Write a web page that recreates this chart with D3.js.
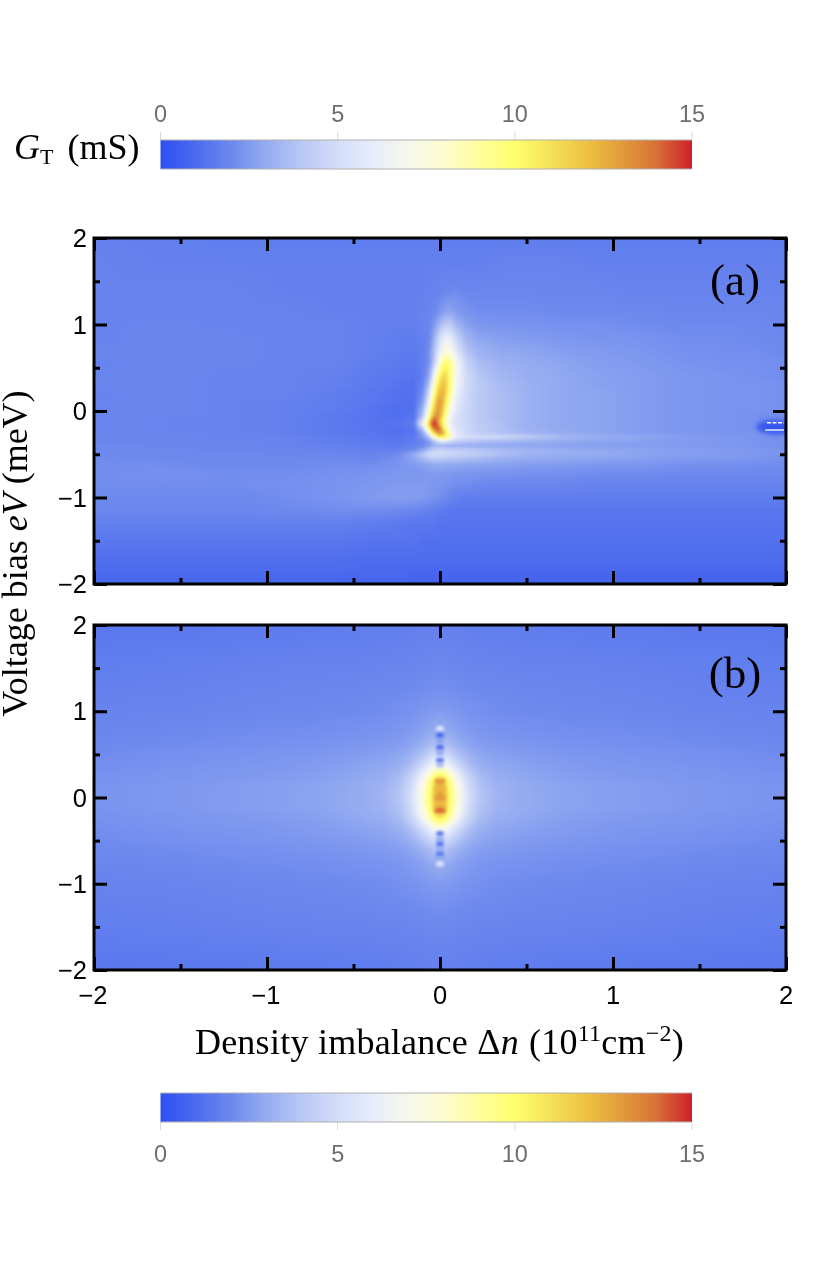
<!DOCTYPE html>
<html>
<head>
<meta charset="utf-8">
<title>Tunnel conductance maps</title>
<script src="https://cdn.jsdelivr.net/npm/d3@7"></script>
<style>
  html, body { margin: 0; padding: 0; background: #fff; }
  #chart { position: relative; width: 828px; height: 1263px; overflow: hidden; }
  #chart canvas, #chart svg { position: absolute; left: 0; top: 0; }
</style>
</head>
<body>
<div id="chart"></div>
<script>
// Colour map for the conductance, in mS
const colorValues = [0, 1, 2, 3, 4, 5, 6, 7, 8, 9, 10, 11, 12, 13, 14, 15];
const colorStops = ["#2d4ff0", "#4c6bee", "#6d89ee", "#96acf1", "#b9c8f5", "#d3ddf8", "#e8edfb", "#f7f8ea",
                    "#fcfcd0", "#fefe9c", "#ffff6e", "#f5e258", "#eec244", "#e29c3a", "#d97038", "#cc2028"];
const colorTicks = [0, 5, 10, 15];

// Measured map (a): density imbalance columns, voltage bias rows, conductance table
const measuredN = [-2, -1.6, -1.2, -0.9, -0.6, -0.4, -0.25, -0.15, -0.1, -0.07, -0.05, -0.03, -0.01, 0.01, 0.03,
                   0.05, 0.07, 0.1, 0.15, 0.22, 0.35, 0.5, 0.7, 0.9, 1.1, 1.4, 1.7, 1.85, 2];
const measuredV = [2, 1.7, 1.4, 1.15, 1, 0.85, 0.7, 0.55, 0.4, 0.3, 0.2, 0.1, 0.03, -0.05, -0.1, -0.15, -0.2, -0.25,
                   -0.3, -0.35, -0.4, -0.45, -0.5, -0.55, -0.62, -0.72, -0.85, -1, -1.15, -1.3, -1.5, -1.75, -2];
const measuredG = [
  [1.7,1.7,1.6,1.6,1.6,1.6,1.6,1.6,1.6,1.6,1.6,1.6,1.6,1.6,1.6,1.6,1.6,1.6,1.6,1.6,1.6,1.6,1.6,1.6,1.6,1.6,1.6,1.6,1.6],
  [1.8,1.7,1.7,1.7,1.7,1.7,1.7,1.7,1.7,1.7,1.7,1.7,1.7,1.7,1.7,1.7,1.7,1.7,1.7,1.7,1.8,1.8,1.8,1.7,1.7,1.7,1.7,1.7,1.7],
  [1.8,1.8,1.8,1.7,1.7,1.7,1.7,1.7,1.7,1.8,1.8,1.8,1.8,1.9,1.9,1.9,2.0,2.0,1.9,1.9,1.9,1.9,1.9,1.9,1.8,1.8,1.8,1.8,1.8],
  [1.8,1.8,1.8,1.8,1.7,1.7,1.7,1.7,1.8,1.8,1.9,2.0,2.2,2.5,2.7,2.8,2.7,2.5,2.3,2.1,2.1,2.1,2.0,2.0,2.0,1.9,1.9,1.9,1.9],
  [1.8,1.9,1.8,1.8,1.8,1.7,1.7,1.7,1.8,1.9,2.1,2.5,3.1,3.7,4.1,4.2,3.9,3.2,2.7,2.4,2.3,2.3,2.2,2.2,2.1,2.0,2.0,2.0,1.9],
  [1.8,1.9,1.9,1.8,1.8,1.7,1.6,1.6,1.7,1.9,2.4,3.3,4.4,5.4,5.9,6.0,5.5,4.4,3.3,2.8,2.6,2.5,2.4,2.3,2.3,2.1,2.1,2.0,2.0],
  [1.9,1.9,1.9,1.8,1.8,1.7,1.6,1.5,1.7,2.0,2.8,3.9,5.3,6.5,7.3,7.4,6.8,5.4,3.9,3.2,2.9,2.8,2.6,2.5,2.4,2.2,2.1,2.1,2.0],
  [1.8,1.9,1.9,1.8,1.8,1.6,1.5,1.4,1.7,2.1,3.0,4.6,6.8,9.0,10,9.9,8.6,6.6,4.6,3.6,3.2,3.0,2.8,2.6,2.5,2.3,2.2,2.2,2.1],
  [1.9,1.9,1.8,1.8,1.7,1.5,1.4,1.3,1.7,2.6,4.2,7.2,9.6,11,11.4,10.4,8.8,6.6,5.0,4.0,3.4,3.1,2.9,2.7,2.6,2.4,2.3,2.2,2.1],
  [1.9,1.9,1.8,1.8,1.7,1.5,1.3,1.2,1.9,3.3,5.6,8.6,10.8,12,11.8,10.4,8.6,6.4,5.0,4.1,3.5,3.2,2.9,2.7,2.6,2.4,2.3,2.3,2.2],
  [1.8,1.9,1.8,1.8,1.6,1.4,1.2,1.2,2.2,4.3,7.2,10,11.8,12.6,11.8,10,8.0,6.0,4.9,4.1,3.6,3.2,2.9,2.8,2.6,2.4,2.3,2.3,2.2],
  [1.9,1.9,1.8,1.7,1.6,1.4,1.2,1.2,2.6,5.4,8.6,11.2,12.9,12.8,11,9.0,7.2,5.7,4.8,4.1,3.6,3.2,2.9,2.8,2.6,2.4,2.3,2.3,2.2],
  [1.8,1.9,1.8,1.7,1.6,1.3,1.1,1.2,3.2,6.4,9.6,12,13,12.4,10.4,8.4,6.8,5.5,4.8,4.1,3.6,3.2,2.9,2.8,2.6,2.4,2.3,2.3,2.2],
  [1.9,1.9,1.8,1.7,1.5,1.3,1.1,1.3,3.8,7.6,11,13,13.4,11.8,9.6,7.6,6.2,5.3,4.7,4.1,3.6,3.2,2.9,2.8,2.6,2.4,2.3,2.2,2.1],
  [1.9,1.8,1.8,1.7,1.5,1.3,1.2,1.4,5.0,9.0,12.8,14.4,13,10.8,8.8,7.0,5.9,5.2,4.7,4.1,3.6,3.2,2.9,2.8,2.6,2.4,2.3,2.2,2.1],
  [1.8,1.9,1.8,1.7,1.5,1.3,1.3,1.6,6.2,10.5,14,15,13.4,11,8.8,7.0,5.9,5.2,4.8,4.2,3.7,3.2,2.9,2.8,2.6,2.4,2.3,2.2,2.1],
  [1.9,1.8,1.8,1.7,1.5,1.3,1.2,1.4,4.2,8.8,12.2,14.2,14.4,12.2,9.6,7.6,6.1,5.3,4.8,4.2,3.7,3.2,2.9,2.8,2.6,2.4,2.3,2.2,2.1],
  [1.9,1.9,1.8,1.7,1.5,1.4,1.2,1.3,2.8,5.8,9.6,12,13.6,13.2,11.2,9.0,6.8,5.6,4.8,4.3,3.8,3.3,3.0,2.8,2.6,2.4,2.3,2.3,2.2],
  [1.9,1.9,1.8,1.8,1.6,1.4,1.3,1.5,2.4,3.5,5.5,8.0,10,10.8,10.2,9.2,7.2,5.8,5.2,5.0,4.8,4.2,3.5,3.1,2.9,2.6,2.4,2.3,2.2],
  [1.9,1.9,1.9,1.8,1.6,1.5,1.4,1.6,1.9,2.4,3.0,4.0,5.0,5.6,5.6,5.0,4.6,4.2,4.0,3.8,3.5,3.2,3.0,2.8,2.7,2.5,2.4,2.3,2.2],
  [2.0,1.9,1.9,1.8,1.7,1.6,1.5,1.7,2.0,2.4,2.8,3.1,3.2,3.2,3.2,3.1,3.1,3.1,3.1,3.0,2.9,2.8,2.7,2.6,2.6,2.5,2.4,2.3,2.2],
  [2.0,2.0,1.9,1.9,1.8,1.7,1.7,2.1,2.8,3.5,4.0,4.3,4.6,4.6,4.5,4.5,4.4,4.3,4.1,3.9,3.6,3.3,3.1,2.9,2.8,2.6,2.5,2.4,2.3],
  [2.0,2.0,2.0,1.9,1.9,1.8,2.0,3.0,4.0,4.8,5.0,5.0,5.0,5.0,4.9,4.8,4.7,4.6,4.4,4.1,3.7,3.3,3.1,3.0,2.8,2.6,2.5,2.4,2.3],
  [2.1,2.0,2.0,2.0,2.0,1.9,2.2,2.8,3.4,3.9,4.1,4.1,4.1,4.0,4.0,3.9,3.9,3.8,3.7,3.5,3.2,3.0,2.9,2.8,2.7,2.5,2.4,2.3,2.2],
  [2.1,2.1,2.0,2.0,2.1,2.1,2.3,2.5,2.7,2.8,2.9,3.0,3.0,3.0,2.9,2.9,2.9,2.9,2.8,2.8,2.7,2.6,2.5,2.4,2.4,2.2,2.2,2.1,2.1],
  [2.1,2.2,2.1,2.1,2.2,2.3,2.4,2.4,2.4,2.5,2.5,2.5,2.5,2.5,2.5,2.5,2.4,2.4,2.4,2.3,2.3,2.2,2.2,2.1,2.1,2.0,2.0,2.0,2.0],
  [2.1,2.1,2.1,2.2,2.3,2.4,2.5,2.5,2.5,2.5,2.4,2.4,2.4,2.3,2.3,2.2,2.2,2.1,2.1,2.0,1.9,1.9,1.9,1.8,1.8,1.8,1.8,1.8,1.8],
  [2.0,2.0,2.0,2.1,2.3,2.5,2.6,2.6,2.5,2.4,2.3,2.3,2.2,2.1,2.0,1.9,1.8,1.7,1.6,1.6,1.6,1.6,1.6,1.6,1.6,1.6,1.6,1.6,1.6],
  [1.9,1.9,1.9,2.0,2.1,2.1,2.0,1.9,1.8,1.7,1.7,1.6,1.6,1.5,1.5,1.4,1.4,1.4,1.4,1.4,1.4,1.4,1.4,1.4,1.4,1.4,1.4,1.4,1.4],
  [1.7,1.7,1.7,1.7,1.7,1.6,1.5,1.4,1.4,1.4,1.4,1.4,1.3,1.3,1.3,1.3,1.3,1.3,1.3,1.3,1.3,1.3,1.3,1.3,1.3,1.3,1.3,1.3,1.3],
  [1.4,1.4,1.4,1.4,1.4,1.3,1.3,1.3,1.2,1.2,1.2,1.2,1.2,1.2,1.2,1.2,1.2,1.2,1.2,1.2,1.2,1.2,1.2,1.2,1.2,1.2,1.2,1.2,1.2],
  [1.1,1.1,1.1,1.1,1.1,1.0,1.0,1.0,1.0,1.0,1.0,1.0,1.0,1.0,1.0,1.0,1.0,1.0,1.0,1.0,1.0,1.0,1.0,1.0,1.0,1.0,1.0,1.0,1.0],
  [0.8,0.8,0.8,0.8,0.8,0.8,0.8,0.7,0.7,0.7,0.7,0.7,0.7,0.7,0.7,0.7,0.7,0.7,0.7,0.7,0.7,0.7,0.7,0.7,0.7,0.7,0.7,0.7,0.7]
];
// Dark dip and the two saturated traces at the high-imbalance edge of (a)
const dipN = [1.83, 2.05];
const dipV = [-0.1, -0.27];
const dipG = 0.3;
const traceV = [-0.135, -0.22];
const traceN = [1.89, 1.88];

// Calculated map (b), one quadrant: it is symmetric in both the imbalance and the bias
const modelN = [0, 0.017, 0.035, 0.052, 0.07, 0.087, 0.11, 0.14, 0.175, 0.23, 0.32, 0.46, 0.7, 1.04, 1.5, 2];
const modelV = [0, 0.06, 0.115, 0.175, 0.23, 0.29, 0.35, 0.42, 0.5, 0.6, 0.75, 1, 1.27, 1.62, 2];
const modelG = [
  [12.8,12.5,11.7,10.4,9.3,8.4,7.3,6.0,4.9,3.9,3.3,3.0,2.75,2.6,2.45,2.3],
  [12.8,12.4,11.6,10.3,9.2,8.3,7.2,5.9,4.8,3.9,3.3,3.0,2.75,2.6,2.45,2.3],
  [12.6,12.2,11.4,10.1,9.0,8.1,7.0,5.8,4.7,3.8,3.25,3.0,2.75,2.6,2.45,2.3],
  [12.1,11.7,10.9,9.7,8.7,7.8,6.7,5.6,4.6,3.7,3.2,2.95,2.7,2.55,2.4,2.25],
  [11.0,10.6,10.0,9.0,8.1,7.2,6.2,5.2,4.4,3.6,3.1,2.9,2.65,2.5,2.35,2.25],
  [9.3,9.1,8.6,7.9,7.1,6.4,5.6,4.8,4.1,3.4,3.0,2.8,2.6,2.45,2.35,2.2],
  [7.6,7.4,7.0,6.5,6.0,5.5,4.9,4.3,3.7,3.2,2.9,2.75,2.55,2.4,2.3,2.15],
  [6.2,6.1,5.8,5.5,5.1,4.7,4.3,3.8,3.4,3.0,2.8,2.65,2.5,2.35,2.25,2.1],
  [5.0,4.9,4.8,4.5,4.3,4.0,3.7,3.4,3.1,2.85,2.65,2.55,2.4,2.3,2.2,2.05],
  [3.9,3.9,3.8,3.6,3.5,3.3,3.1,2.95,2.8,2.6,2.5,2.4,2.3,2.2,2.1,2.0],
  [3.1,3.1,3.0,2.95,2.9,2.8,2.7,2.6,2.5,2.4,2.3,2.25,2.15,2.1,2.0,1.9],
  [2.5,2.5,2.5,2.45,2.4,2.4,2.35,2.3,2.25,2.2,2.1,2.05,2.0,1.95,1.85,1.8],
  [2.15,2.15,2.15,2.15,2.1,2.1,2.1,2.05,2.05,2.0,2.0,1.95,1.9,1.85,1.75,1.7],
  [1.9,1.9,1.9,1.9,1.9,1.9,1.85,1.85,1.85,1.8,1.8,1.75,1.75,1.7,1.65,1.6],
  [1.7,1.7,1.7,1.7,1.7,1.7,1.7,1.65,1.65,1.65,1.6,1.6,1.55,1.5,1.45,1.4]
];
// Numerical speckle along the zero-imbalance line of (b)
const speckleV = [0.8, 0.72, 0.66, 0.58, 0.52, 0.43, 0.38, 0.19, 0.1, 0.0, -0.07, -0.15, -0.42, -0.48, -0.54, -0.6, -0.66, -0.71, -0.77];
const speckleG = [5.5, 0.7, 2.6, 0.9, 2.8, 1.2, 3.5, 13.6, 12.4, 13.2, 12.2, 14.4, 1.4, 3.0, 1.0, 3.0, 1.2, 3.0, 5.5];

const axisTicks = [-2, -1, 0, 1, 2];
const minorTicks = [-1.5, -0.5, 0.5, 1.5];

const width = 828, height = 1263;
const plotLeft = 94, plotRight = 786;
const panels = [
  { top: 238, bottom: 584, label: "(a)", labelY: 295 },
  { top: 625, bottom: 970, label: "(b)", labelY: 688 }
];

const gScale = d3.scaleLinear().domain(colorValues).range(colorStops).clamp(true);
const barScale = d3.scaleLinear().domain([0, 15]).range([160.5, 692]);
const nScale = d3.scaleLinear().domain([-2, 2]).range([plotLeft, plotRight]);
const formatTick = d => d3.format("")(d).replace("-", "\u2212");

const root = d3.select("#chart");
const canvas = root.append("canvas").attr("width", width).attr("height", height);
const ctx = canvas.node().getContext("2d");
const svg = root.append("svg").attr("width", width).attr("height", height);

// Lookup table so the per-pixel colouring stays cheap
const lutSize = 1500;
const lut = d3.range(lutSize + 1).map(i => d3.rgb(gScale(15 * i / lutSize)));

// Paints a conductance table, reading it bilinearly at each screen pixel
function paintMap(columns, rows, table, vScale, top, bottom) {
  const w = plotRight - plotLeft, h = bottom - top;
  const off = document.createElement("canvas");
  off.width = w; off.height = h;
  const octx = off.getContext("2d");
  const img = octx.createImageData(w, h);
  const colIndex = d3.scaleLinear().domain(columns).range(d3.range(columns.length));
  const rowIndex = d3.scaleLinear().domain(rows).range(d3.range(rows.length));
  for (let py = 0; py < h; py++) {
    const fy = rowIndex(vScale.invert(top + py + 0.5));
    const r0 = Math.min(Math.floor(fy), rows.length - 2), ty = fy - r0;
    for (let px = 0; px < w; px++) {
      const fx = colIndex(nScale.invert(plotLeft + px + 0.5));
      const c0 = Math.min(Math.floor(fx), columns.length - 2), tx = fx - c0;
      const g = (table[r0][c0] * (1 - tx) + table[r0][c0 + 1] * tx) * (1 - ty)
              + (table[r0 + 1][c0] * (1 - tx) + table[r0 + 1][c0 + 1] * tx) * ty;
      const c = lut[Math.max(0, Math.min(lutSize, Math.round(g / 15 * lutSize)))];
      const k = 4 * (py * w + px);
      img.data[k] = c.r; img.data[k + 1] = c.g; img.data[k + 2] = c.b; img.data[k + 3] = 255;
    }
  }
  octx.putImageData(img, 0, 0);
  ctx.save();
  ctx.beginPath(); ctx.rect(plotLeft, top, w, h); ctx.clip();
  // a sharp copy goes down first so the soft one cannot show white at the border
  ctx.drawImage(off, plotLeft, top);
  ctx.filter = "blur(1px)";
  ctx.drawImage(off, plotLeft, top);
  ctx.restore();
}

// Unfolds the stored quadrant of the calculated map over all four quadrants
const mirrorAxis = a => [...a.slice(1).map(d => -d).reverse(), ...a];
const mirrorRow = r => [...r.slice(1).reverse(), ...r];
const modelNFull = mirrorAxis(modelN);
const modelVFull = mirrorAxis(modelV).reverse();
const modelGFull = mirrorRow(modelG).map(mirrorRow);

// Panel (a)
const vA = d3.scaleLinear().domain([2, -2]).range([panels[0].top, panels[0].bottom]);
paintMap(measuredN, measuredV, measuredG, vA, panels[0].top, panels[0].bottom);
ctx.save();
ctx.beginPath(); ctx.rect(plotLeft, panels[0].top, plotRight - plotLeft, panels[0].bottom - panels[0].top); ctx.clip();
ctx.filter = "blur(2.5px)";
ctx.fillStyle = gScale(dipG);
ctx.beginPath();
ctx.ellipse((nScale(dipN[0]) + nScale(dipN[1])) / 2, (vA(dipV[0]) + vA(dipV[1])) / 2,
            (nScale(dipN[1]) - nScale(dipN[0])) / 2, (vA(dipV[1]) - vA(dipV[0])) / 2, 0, 0, 2 * Math.PI);
ctx.fill();
ctx.restore();
ctx.save();
ctx.strokeStyle = "#f4f6ff";
ctx.lineWidth = 1.4;
traceV.forEach((v, i) => {
  ctx.setLineDash(i === 0 ? [4, 1.5] : []);
  ctx.beginPath();
  ctx.moveTo(nScale(traceN[i]), vA(v));
  ctx.lineTo(plotRight - 2, vA(v));
  ctx.stroke();
});
ctx.restore();

// Panel (b)
const vB = d3.scaleLinear().domain([2, -2]).range([panels[1].top, panels[1].bottom]);
paintMap(modelNFull, modelVFull, modelGFull, vB, panels[1].top, panels[1].bottom);
ctx.save();
ctx.filter = "blur(1.6px)";
speckleV.forEach((v, i) => {
  ctx.globalAlpha = Math.abs(v) < 0.3 ? 0.75 : 1;
  ctx.fillStyle = gScale(speckleG[i]);
  const half = Math.abs(v) < 0.3 ? 0.03 : 0.02;
  ctx.fillRect(nScale(-half), vB(v) - 2.5, nScale(half) - nScale(-half), 5);
});
ctx.restore();

// Axes, ticks and frames
panels.forEach((p, i) => {
  const v = d3.scaleLinear().domain([2, -2]).range([p.top, p.bottom]);
  const g = svg.append("g");
  const drawSide = (axisFn, scale, tx, ty, values, size) => {
    const ax = g.append("g").attr("transform", `translate(${tx},${ty})`)
      .call(axisFn(scale).tickValues(values).tickSize(size).tickPadding(0).tickFormat(""));
    ax.select(".domain").remove();
    ax.selectAll(".tick line").attr("stroke", "#000").attr("stroke-width", 3);
  };
  [[axisTicks, -13], [minorTicks, -6]].forEach(([vals, len]) => {
    drawSide(d3.axisBottom, nScale, 0, p.bottom, vals, len);
    drawSide(d3.axisTop, nScale, 0, p.top, vals, len);
    drawSide(d3.axisLeft, v, plotLeft, 0, vals, len);
    drawSide(d3.axisRight, v, plotRight, 0, vals, len);
  });
  g.append("rect")
    .attr("x", plotLeft).attr("y", p.top)
    .attr("width", plotRight - plotLeft).attr("height", p.bottom - p.top)
    .attr("fill", "none").attr("stroke", "#000").attr("stroke-width", 3);

  g.selectAll(".ylab").data(axisTicks).join("text")
    .attr("class", "ylab")
    .attr("x", 87).attr("y", d => v(d) + 9)
    .attr("text-anchor", "end")
    .attr("font-family", "'Liberation Sans', Arial, sans-serif")
    .attr("font-size", 25.5)
    .text(formatTick);

  g.append("text")
    .attr("x", 735).attr("y", p.labelY)
    .attr("text-anchor", "middle")
    .attr("font-family", "'Liberation Serif', serif")
    .attr("font-size", 45)
    .text(p.label);
});

svg.selectAll(".xlab").data(axisTicks).join("text")
  .attr("class", "xlab")
  .attr("x", d => nScale(d) - (d < 0 ? 1 : 0)).attr("y", 1004)
  .attr("text-anchor", "middle")
  .attr("font-family", "'Liberation Sans', Arial, sans-serif")
  .attr("font-size", 25.5)
  .text(formatTick);

// Colour bars above and below the maps
const defs = svg.append("defs");
const grad = defs.append("linearGradient").attr("id", "gBar");
grad.selectAll("stop").data(colorValues).join("stop")
  .attr("offset", d => d / 15)
  .attr("stop-color", d => gScale(d));

function colorBar(y, h, tickDir, labelY) {
  const g = svg.append("g");
  g.selectAll("line").data(colorTicks).join("line")
    .attr("x1", d => barScale(d)).attr("x2", d => barScale(d))
    .attr("y1", tickDir < 0 ? y - 8 : y + h)
    .attr("y2", tickDir < 0 ? y : y + h + 8)
    .attr("stroke", "#d9d9d9").attr("stroke-width", 1);
  g.append("rect")
    .attr("x", barScale(0)).attr("y", y)
    .attr("width", barScale(15) - barScale(0)).attr("height", h)
    .attr("fill", "url(#gBar)");
  [y, y + h].forEach(yy => g.append("line")
    .attr("x1", barScale(0)).attr("x2", barScale(15))
    .attr("y1", yy).attr("y2", yy)
    .attr("stroke", "#b0b0b0").attr("stroke-width", 1));
  g.selectAll("text").data(colorTicks).join("text")
    .attr("x", d => barScale(d)).attr("y", labelY)
    .attr("text-anchor", "middle")
    .attr("font-family", "'Liberation Sans', Arial, sans-serif")
    .attr("font-size", 23.5)
    .attr("fill", "#6e6e6e")
    .text(d => d);
}
colorBar(140, 29, -1, 122);
colorBar(1093, 29, 1, 1162);

// Titles, in a serif face with sub- and superscripts
const serif = "'Liberation Serif', serif";
const gLabel = svg.append("text").attr("x", 14).attr("y", 159)
  .attr("font-family", serif).attr("font-size", 36);
gLabel.append("tspan").attr("font-style", "italic").text("G");
gLabel.append("tspan").attr("font-size", 22).attr("dy", 5).text("T");
gLabel.append("tspan").attr("dy", -5).attr("dx", 14).text("(mS)");

const yTitle = svg.append("text")
  .attr("transform", "translate(27,553.5) rotate(-90)")
  .attr("text-anchor", "middle")
  .attr("font-family", serif).attr("font-size", 36);
yTitle.append("tspan").text("Voltage bias ");
yTitle.append("tspan").attr("font-style", "italic").text("eV");
yTitle.append("tspan").text(" (meV)");

const xTitle = svg.append("text")
  .attr("x", 439.5).attr("y", 1054)
  .attr("text-anchor", "middle")
  .attr("font-family", serif).attr("font-size", 36)
  .attr("letter-spacing", 0.25);
xTitle.append("tspan").text("Density imbalance \u0394");
xTitle.append("tspan").attr("font-style", "italic").text("n");
xTitle.append("tspan").attr("dx", 10).text("(10");
xTitle.append("tspan").attr("font-size", 24).attr("dy", -13).text("11");
xTitle.append("tspan").attr("dy", 13).text("cm");
xTitle.append("tspan").attr("font-size", 24).attr("dy", -13).text("\u22122");
xTitle.append("tspan").attr("dy", 13).text(")");
</script>
</body>
</html>
